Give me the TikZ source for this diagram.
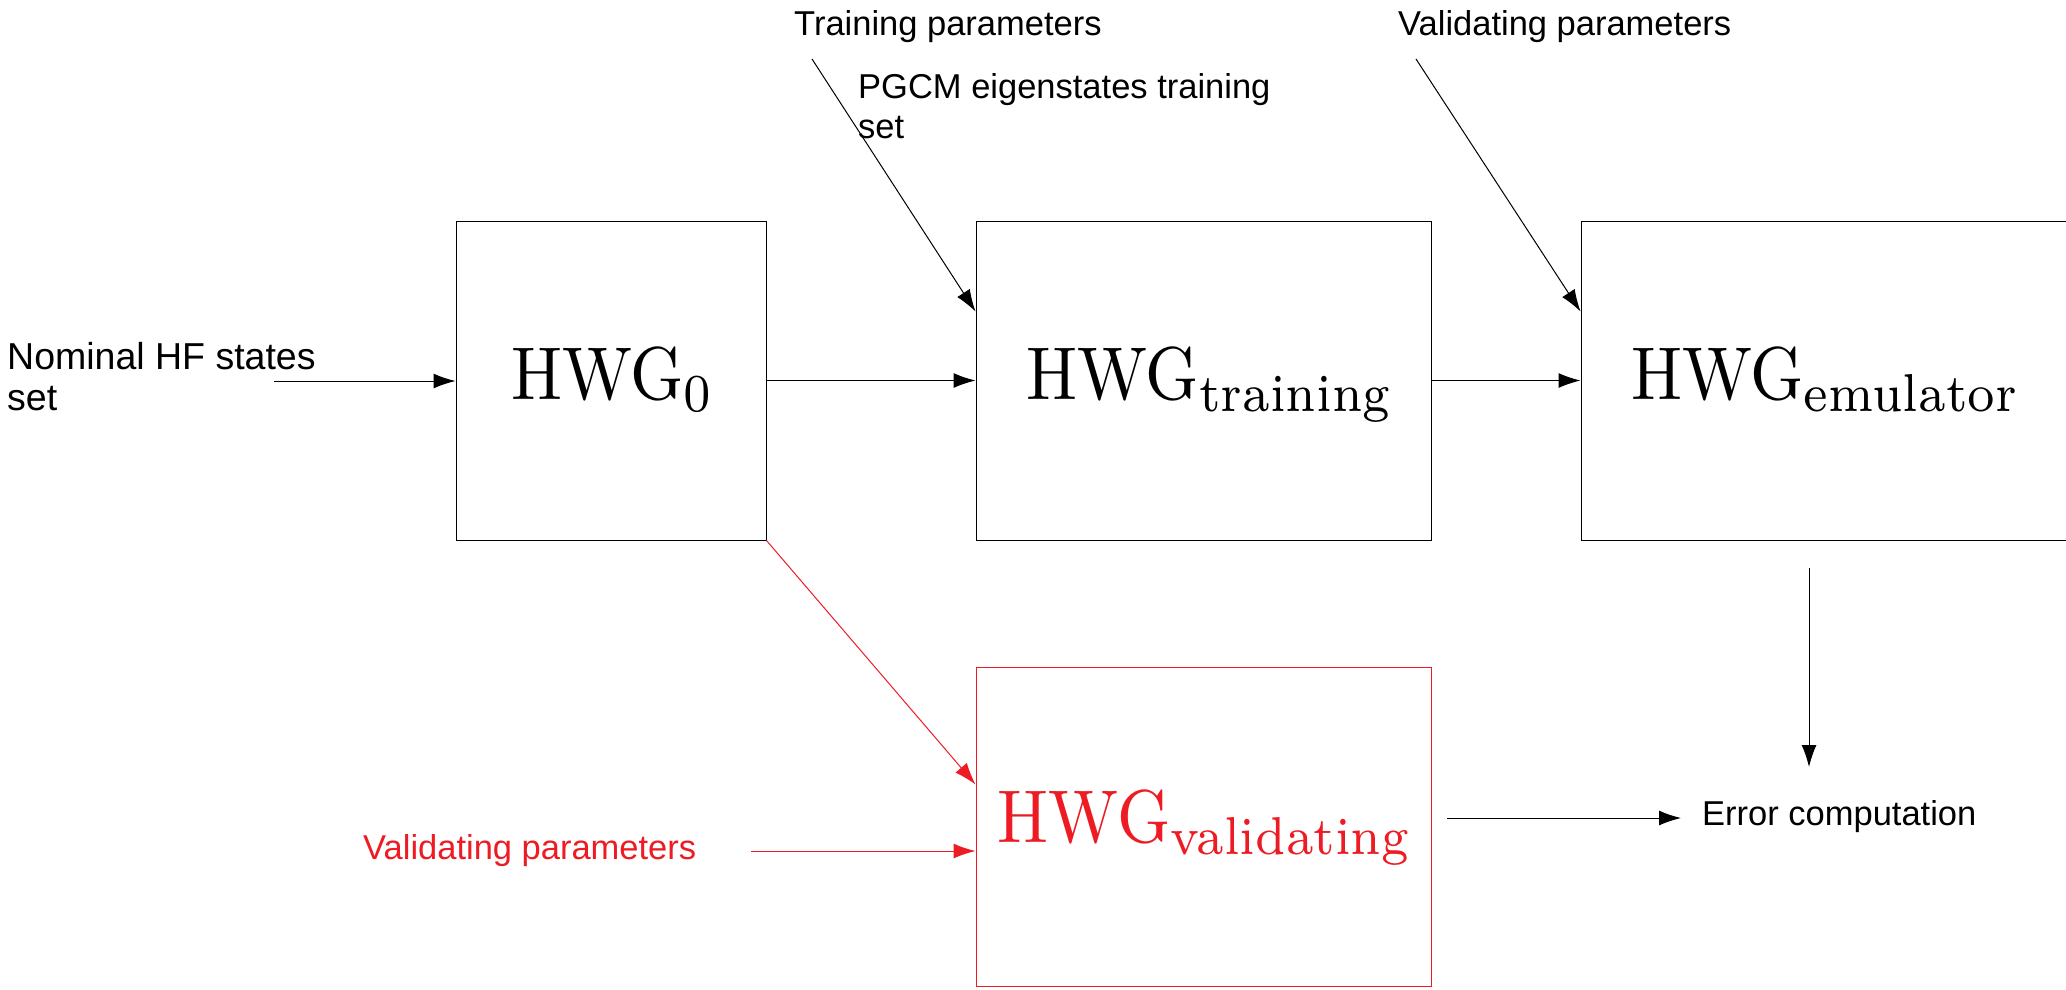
\documentclass[tikz,border=0pt]{standalone}
\usepackage{fontspec}
\newfontfamily\lsans{Liberation Sans}
\newfontfamily\lmten{lmroman10-regular}[Extension=.otf]
\newfontfamily\lmseven{lmroman7-regular}[Extension=.otf]
\usetikzlibrary{arrows.meta}
\definecolor{lored}{RGB}{237,28,36}
\newcommand{\hwg}[1]{\scalebox{1}[1.1]{\lmten\fontsize{68}{76}\selectfont HWG\raisebox{-11pt}{\lmseven\fontsize{48.5}{52}\selectfont #1}}}
\begin{document}
\begin{tikzpicture}[x=1pt,y=-1pt,
  lbl/.style={font=\lsans\fontsize{34.5}{40}\selectfont, inner sep=0pt, align=left},
  box/.style={draw, line width=1pt, minimum height=319pt, inner sep=0pt,
    text height=52pt, text depth=14pt},
  arr/.style={-{Latex[length=22pt,width=15pt]}, line width=1pt},
]
\useasboundingbox (0,0) rectangle (2066,989);
\clip (0,0) rectangle (2066,989);

% boxes
\node[box, minimum width=310pt] (h0) at (611,380.5) {\hwg{0}};
\node[box, minimum width=455pt] (tr) at (1203.5,380.5) {\hskip 10pt\hwg{training}};
\node[box, minimum width=486pt] (em) at (1824,380.5) {\hwg{emulator}};
\node[box, draw=lored, text=lored, minimum width=455pt, text depth=21pt] (va) at (1203.5,826.5) {\hwg{validating}};

% labels
\node[lbl, anchor=base west] (tp) at (794,35) {Training parameters};
\node[lbl, anchor=north west] (pg) at (858,73) {PGCM eigenstates training\\set};
\node[lbl, anchor=base west] (vp) at (1398,35) {Validating parameters};
\node[lbl, anchor=north west, font=\lsans\fontsize{37.5}{41}\selectfont] (nh) at (7,342) {Nominal HF states\\set};
\node[lbl, anchor=base west, text=lored] (rv) at (363,859) {Validating parameters};
\node[lbl, anchor=base west] (err) at (1702,825) {Error computation};

% connectors
\coordinate (tps) at (812,59);
\draw[arr] (tps) -- ([yshift=-91pt]tr.north west);
\coordinate (vps) at (1416,59);
\draw[arr] (vps) -- ([yshift=-91pt]em.north west);
\coordinate (nos) at (274,381);
\draw[arr] (nos) -- (nos -| h0.west);
\draw[arr] (h0.east) -- (tr.west);
\draw[arr] (tr.east) -- (em.west);
\draw[arr, lored] (h0.south east) -- ([yshift=-118pt]va.north west);
\coordinate (rvs) at (751,851);
\draw[arr, lored] (rvs) -- (rvs -| va.west);
\coordinate (ede) at (1809,767);
\draw[arr] ([xshift=-15pt,yshift=-27pt]em.south) -- (ede);
\coordinate (ves) at (1447,818);
\coordinate (vee) at (1681,818);
\draw[arr] (ves) -- (vee);
\end{tikzpicture}
\end{document}
